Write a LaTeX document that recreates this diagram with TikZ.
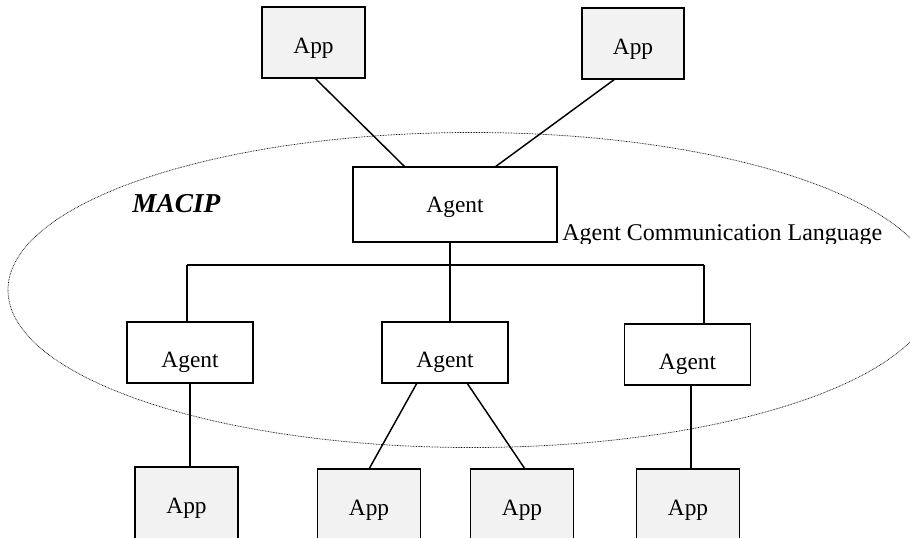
\documentclass[tikz,border=0pt]{standalone}
\usepackage{fontspec}
\setmainfont{Liberation Serif}
\definecolor{appgray}{HTML}{F2F2F2}
\begin{document}
\begin{tikzpicture}[x=0.75pt,y=-0.75pt,
  box/.style={draw=black,line width=1.1pt,inner sep=0pt,outer sep=0pt,font=\fontsize{17.5}{20}\selectfont,text depth=0pt},
  appbox/.style={box,fill=appgray,minimum width=77pt,minimum height=53.25pt,text height=16.2pt},
  lowapp/.style={appbox,minimum height=58.5pt,text height=10.95pt},
  agentbox/.style={box,fill=white,minimum width=94.5pt,minimum height=45.75pt,text height=23pt},
  link/.style={line width=1.1pt},
  region/.style={line width=0.55pt,dash pattern=on 0.6pt off 0.6pt,draw=black!90}]
\useasboundingbox (0,0) rectangle (910,537);
\clip (0,0) rectangle (910,537);
% MACIP region
\draw[region] (472,290) ellipse [x radius=348pt, y radius=118.125pt];
% boxes
\node[appbox] (appTL) at (313.5,42.5) {App};
\node[appbox,minimum width=76.5pt] (appTR) at (633,43.5) {App};
\node[box,fill=white,minimum width=153pt,minimum height=56.25pt,text height=11.7pt] (agentTop) at (455,204.5) {Agent};
\node[agentbox] (agentL) at (190,352.5) {Agent};
\node[agentbox] (agentM) at (445,352.5) {Agent};
\node[agentbox] (agentR) at (687.5,354.5) {Agent};
\node[lowapp] (appBL) at (186.5,506) {App};
\node[lowapp] (appB2) at (369,508) {App};
\node[lowapp] (appB3) at (522,508) {App};
\node[lowapp] (appBR) at (688,508) {App};
% labels
\node[font=\fontsize{20.5}{24}\selectfont\bfseries\itshape,anchor=base west,inner sep=0pt] (macip) at (132,212) {MACIP};
\begin{scope}
  \clip (540,200) rectangle (910,243);
  \node[font=\fontsize{18}{20}\selectfont,anchor=base west,inner sep=0pt] (acl) at (562,240) {Agent Communication Language};
\end{scope}
% bus
\coordinate (busL) at (187,265);
\coordinate (busM) at (450,265);
\coordinate (busR) at (704,265);
\draw[link] (busL) -- (busR);
\draw[link] (agentTop.south -| busM) -- (busM) -- (agentM.north -| busM);
\draw[link] (busL) -- (agentL.north -| busL);
\draw[link] (busR) -- (agentR.north -| busR);
% top connectors
\draw[link] ([xshift=1pt]appTL.south) -- ([xshift=-37.5pt]agentTop.north);
\draw[link] ([xshift=-13.5pt]appTR.south) -- ([xshift=30pt]agentTop.north);
% bottom connectors
\draw[link] (agentL.south) -- (agentL.south |- appBL.north);
\draw[link] ([xshift=-21pt]agentM.south) -- (appB2.north);
\draw[link] ([xshift=16.5pt]agentM.south) -- ([xshift=2.25pt]appB3.north);
\draw[link] ([xshift=2.5pt]agentR.south) -- ([xshift=2.5pt]agentR.south |- appBR.north);
\end{tikzpicture}
\end{document}
